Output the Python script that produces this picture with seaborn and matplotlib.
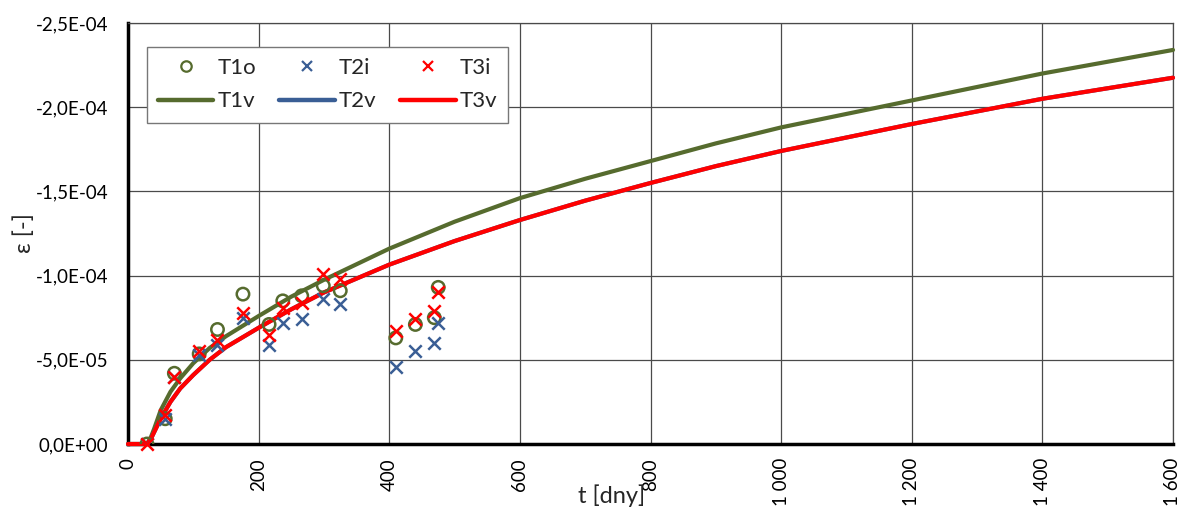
import numpy as np
import matplotlib
matplotlib.use("Agg")
import matplotlib.pyplot as plt
import seaborn as sns
from matplotlib.lines import Line2D
from matplotlib.ticker import FuncFormatter, MultipleLocator

# measured strains (t in days, strain in 1e-5)
t_meas = [29, 57, 71, 109, 137, 176, 216, 237, 266, 299, 325, 410, 440, 469, 475]
t1o = [0, -1.5, -4.2, -5.35, -6.8, -8.9, -7.1, -8.5, -8.8, -9.4, -9.1, -6.3, -7.1, -7.5, -9.3]
t2i = [0, -1.5, -4.0, -5.3, -5.9, -7.5, -5.9, -7.2, -7.4, -8.6, -8.3, -4.6, -5.5, -6.0, -7.2]
t3i = [0, -1.7, -4.0, -5.5, -6.2, -7.8, -6.5, -8.1, -8.4, -10.1, -9.8, -6.7, -7.4, -7.9, -9.0]

# model curves
t_model = [0, 29, 35, 40, 50, 65, 80, 100, 125, 150, 200, 250, 300, 400, 500, 600, 700,
           800, 900, 1000, 1200, 1400, 1600]
t1v = [0, 0, -0.4, -0.9, -2.0, -3.1, -3.9, -4.8, -5.7, -6.4, -7.6, -8.75, -9.75, -11.6,
       -13.2, -14.6, -15.75, -16.8, -17.85, -18.8, -20.4, -22.0, -23.4]
t3v = [0, 0, -0.3, -0.7, -1.5, -2.5, -3.3, -4.1, -5.0, -5.75, -6.9, -8.0, -9.0, -10.65,
       -12.05, -13.3, -14.45, -15.5, -16.5, -17.4, -19.0, -20.5, -21.75]
t2v = t3v  # hidden under T3v in the original

scale = 1e-5
green = "#566B2E"
blue = "#3A5E95"
red = "#FF0000"

sns.set_theme(style="white")
plt.rcParams["font.family"] = ["Lato", "DejaVu Sans"]

fig = plt.figure(figsize=(11.83, 5.08), dpi=100)
ax = fig.add_axes([128 / 1183, 64 / 508, 1045 / 1183, 421 / 508])

t_model = np.array(t_model)
sns.lineplot(x=t_model, y=np.array(t1v) * scale, color=green, linewidth=3, ax=ax,
             zorder=3, clip_on=False)
sns.lineplot(x=t_model, y=np.array(t2v) * scale, color=blue, linewidth=3, ax=ax,
             zorder=3, clip_on=False)
sns.lineplot(x=t_model, y=np.array(t3v) * scale, color=red, linewidth=3, ax=ax,
             zorder=4, clip_on=False)

sns.scatterplot(x=t_meas, y=np.array(t1o) * scale, marker="o", s=80,
                facecolors="none", edgecolor=green, linewidth=1.8, ax=ax, zorder=5)
sns.scatterplot(x=t_meas, y=np.array(t2i) * scale, marker="x", s=80,
                color=blue, linewidth=1.8, ax=ax, zorder=5)
sns.scatterplot(x=t_meas, y=np.array(t3i) * scale, marker="x", s=80,
                color=red, linewidth=1.8, ax=ax, zorder=6, clip_on=False)

ax.set_xlim(0, 1600)
ax.set_ylim(0, -2.5e-4)
ax.xaxis.set_major_locator(MultipleLocator(200))
ax.yaxis.set_major_locator(MultipleLocator(5e-5))
ax.xaxis.set_major_formatter(FuncFormatter(lambda v, p: f"{int(round(v)):,}".replace(",", " ")))
ax.yaxis.set_major_formatter(FuncFormatter(lambda v, p: f"{v:.1E}".replace(".", ",")))

ax.grid(True, color="#4a4a4a", linewidth=0.9)
ax.set_axisbelow(True)
for side in ["top", "right"]:
    ax.spines[side].set_color("#4a4a4a")
    ax.spines[side].set_linewidth(0.9)
for side in ["left", "bottom"]:
    ax.spines[side].set_color("black")
    ax.spines[side].set_linewidth(2.5)
    ax.spines[side].set_zorder(2.5)

ax.tick_params(axis="both", length=0, labelsize=13.5, colors="black")
ax.tick_params(axis="y", pad=14)
ax.tick_params(axis="x", pad=10, labelrotation=90)

ax.set_xlabel("t [dny]", fontsize=17)
ax.set_ylabel("ε [-]", fontsize=17)
ax.xaxis.set_label_coords(0.463, -0.095)
ax.xaxis.label.set_va("top")
ax.yaxis.set_label_coords(-0.089, 0.5)

handles = [
    Line2D([], [], marker="o", ls="none", mfc="none", mec=green, mew=1.6, ms=7.5),
    Line2D([], [], color=green, lw=3.2),
    Line2D([], [], marker="x", ls="none", color=blue, mew=1.6, ms=7.5),
    Line2D([], [], color=blue, lw=3.2),
    Line2D([], [], marker="x", ls="none", color=red, mew=1.6, ms=7.5),
    Line2D([], [], color=red, lw=3.2),
]
labels = ["T1o", "T1v", "T2i", "T2v", "T3i", "T3v"]
leg = ax.legend(handles, labels, ncol=3, loc="upper left",
                bbox_to_anchor=(0.018, 0.943), borderaxespad=0,
                fontsize=16, handlelength=2.5, handletextpad=0.18,
                columnspacing=1.05, labelspacing=0.6, frameon=True,
                fancybox=False, edgecolor="#777777", framealpha=1,
                borderpad=0.5)
leg.get_frame().set_linewidth(1.0)
leg.set_zorder(10)

fig.savefig("out.png", dpi=100)
